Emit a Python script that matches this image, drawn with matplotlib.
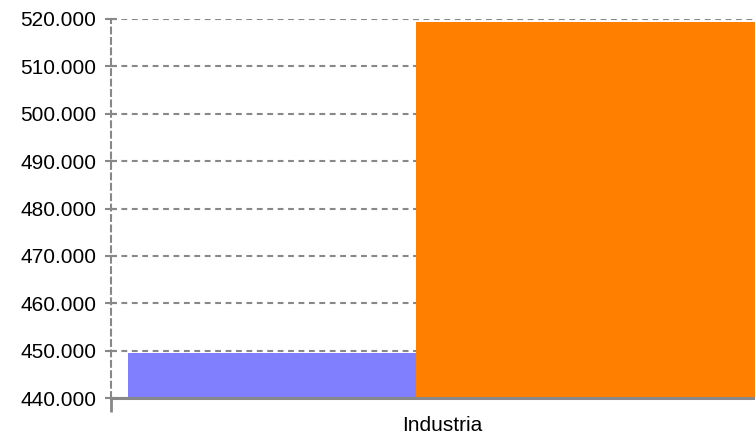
import matplotlib
matplotlib.use("Agg")
import matplotlib.pyplot as plt
from matplotlib.ticker import FuncFormatter, MultipleLocator, FixedLocator

category = "Industria"
series_values = [449600, 519450]
series_colors = ["#8080FF", "#FF8000"]
y_min, y_max = 440000, 520000

plt.rcParams["font.family"] = ["Liberation Sans", "DejaVu Sans"]

fig = plt.figure(figsize=(7.55, 4.34), dpi=100)
ax = fig.add_axes([111 / 755, 1 - 398 / 434, 1 - 111 / 755, (398 - 19) / 434])

# two bars side by side, group edge at x=0
ax.bar(-1.0, series_values[0] - y_min, bottom=y_min, width=1.0, align="edge",
       color=series_colors[0], zorder=2)
ax.bar(0.0, series_values[1] - y_min, bottom=y_min, width=1.2, align="edge",
       color=series_colors[1], zorder=2)

x_left = -1.059
ax.set_xlim(x_left, 1.177)
ax.set_ylim(y_min, y_max)
ax.yaxis.set_major_locator(MultipleLocator(10000))
ax.yaxis.set_major_formatter(FuncFormatter(lambda v, _: f"{v:,.0f}".replace(",", ".")))
ax.set_xticks([0.09])
ax.set_xticklabels([category])
ax.xaxis.set_minor_locator(FixedLocator([x_left]))

ax.grid(True, axis="y", color="#888888", linestyle=(0, (2.8, 2.2)), linewidth=1.5, zorder=1)
ax.set_axisbelow(True)

for side in ("top", "right"):
    ax.spines[side].set_visible(False)
ax.spines["left"].set_color("#888888")
ax.spines["left"].set_linestyle((0, (2.8, 2.2)))
ax.spines["left"].set_linewidth(1.5)
ax.spines["bottom"].set_color("#888888")
ax.spines["bottom"].set_linewidth(2.2)
ax.spines["bottom"].set_zorder(3)

ax.tick_params(axis="y", direction="inout", length=9, width=1.5, color="#888888",
               labelsize=15, pad=6)
ax.tick_params(axis="x", which="major", length=0, labelsize=15, pad=13)
ax.tick_params(axis="x", which="minor", direction="out", length=10, width=2, color="#888888")

fig.savefig("out.png", dpi=100)
plt.close(fig)
